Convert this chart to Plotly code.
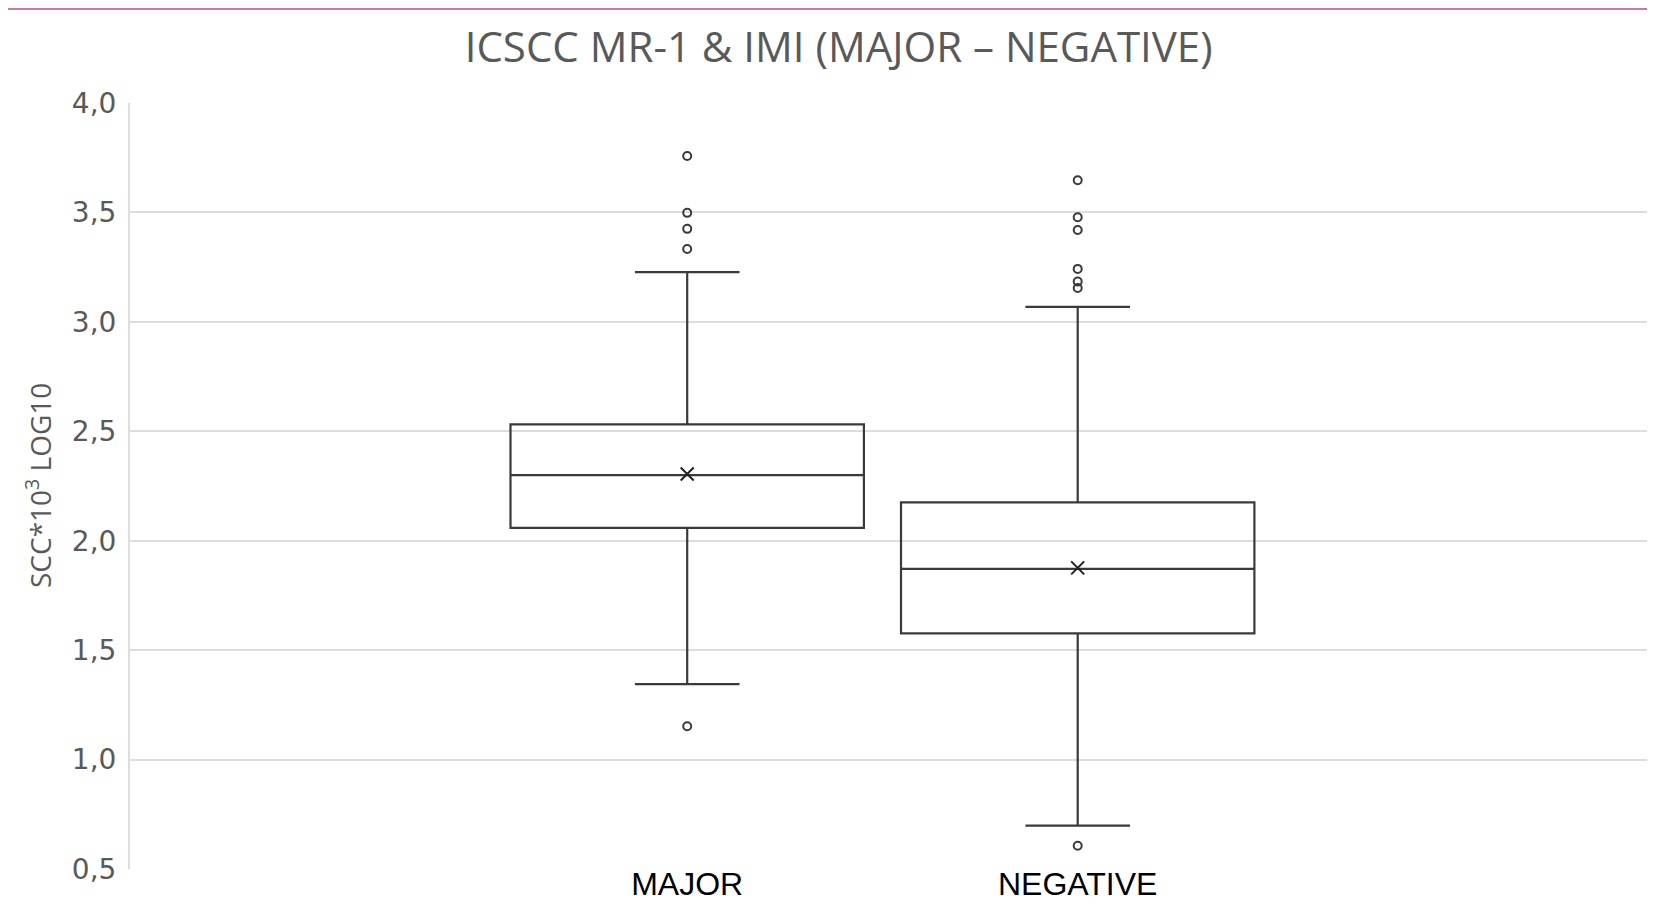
import plotly.graph_objects as go

categories = ["MAJOR", "NEGATIVE"]
q1 = [2.059, 1.577]
median = [2.300, 1.871]
q3 = [2.532, 2.175]
lower_whisker = [1.345, 0.698]
upper_whisker = [3.227, 3.068]
means = [2.305, 1.876]
outliers_major = [3.758, 3.498, 3.425, 3.333, 1.152]
outliers_negative = [3.647, 3.478, 3.420, 3.242, 3.184, 3.155, 0.606]
y_ticks = [0.5, 1.0, 1.5, 2.0, 2.5, 3.0, 3.5, 4.0]
y_tick_labels = ["0,5", "1,0", "1,5", "2,0", "2,5", "3,0", "3,5", "4,0"]

line_col = "#3a3a3a"
W, H = 1639, 893
L, T, B = 122, 95, 32
plot_h = H - T - B

fig = go.Figure()
fig.add_trace(go.Box(
    x=categories, q1=q1, median=median, q3=q3,
    lowerfence=lower_whisker, upperfence=upper_whisker,
    boxpoints=False, width=0.905, whiskerwidth=0.296,
    fillcolor="rgba(255,255,255,0)",
    line=dict(color=line_col, width=2.2), showlegend=False,
))
fig.add_trace(go.Scatter(
    x=categories, y=means, mode="markers",
    marker=dict(symbol="x-thin", size=13, line=dict(color="#202020", width=2)),
    showlegend=False,
))
fig.add_trace(go.Scatter(
    x=[categories[0]] * len(outliers_major) + [categories[1]] * len(outliers_negative),
    y=outliers_major + outliers_negative, mode="markers",
    marker=dict(symbol="circle-open", size=8, color=line_col, line=dict(width=2)),
    showlegend=False,
))

fig.update_layout(
    width=W, height=H,
    margin=dict(l=L, r=0, t=T, b=B),
    paper_bgcolor="white", plot_bgcolor="white",
    title=dict(text="ICSCC MR-1 & IMI (MAJOR – NEGATIVE)", x=0.5068, xanchor="center",
               y=1 - 39.5 / H, yanchor="middle",
               font=dict(family="Open Sans", size=42, color="#595959")),
    shapes=[dict(type="line", xref="paper", yref="paper", x0=-0.1, x1=1.0,
                 y0=(H - B - 1) / plot_h, y1=(H - B - 1) / plot_h,
                 line=dict(color="#c87a9e", width=2))],
    annotations=[dict(text="SCC*10<sup>3</sup> LOG10", xref="paper", yref="paper",
                      x=(30 - L) / (W - L), y=0.5, xanchor="center", yanchor="middle",
                      textangle=-90, showarrow=False,
                      font=dict(family="Open Sans", size=28, color="#595959"))],
)
fig.update_xaxes(
    type="category", categoryorder="array", categoryarray=categories,
    range=[-1.4269, 2.4579], showgrid=False, zeroline=False, showline=False,
    automargin=False, ticks="", ticklabelstandoff=-7,
    tickfont=dict(family="Liberation Sans, Arial", size=32, color="#000000"),
)
fig.update_yaxes(
    range=[0.5, 4.0], tickvals=y_ticks, ticktext=y_tick_labels,
    showgrid=True, gridcolor="#dddddd", gridwidth=2, zeroline=False,
    showline=True, linecolor="#dddddd", linewidth=2, automargin=False,
    ticks="", ticklabelstandoff=6,
    tickfont=dict(family="DejaVu Sans", size=28, color="#595959"),
)

fig.write_html("out.html")
